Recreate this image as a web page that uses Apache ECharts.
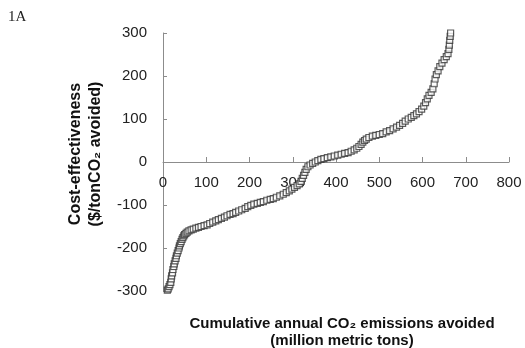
<!DOCTYPE html>
<html>
<head>
<meta charset="utf-8">
<script src="https://cdn.jsdelivr.net/npm/echarts@6/dist/echarts.min.js"></script>
<style>
  html, body { margin: 0; padding: 0; background: #fff; }
  #main { width: 525px; height: 348px; }
</style>
</head>
<body>
<div id="main"></div>
<script>
// cumulative emissions avoided (million metric tons)
var cumEmissions = [
  10, 12, 14, 16, 18, 19, 20, 22, 23, 25, 26, 28, 30, 31, 33, 35, 37, 38, 40, 42,
  44, 46, 48, 50, 53, 56, 60, 65, 70, 76, 82, 88, 95, 102, 108, 115, 122, 128, 135, 142,
  148, 155, 162, 168, 175, 182, 190, 196, 203, 210, 218, 225, 232, 240, 248, 255, 262, 270, 278, 285,
  292, 298, 304, 310, 315, 319, 322, 325, 328, 331, 335, 340, 346, 352, 358, 365, 372, 380, 388, 396,
  404, 412, 420, 428, 435, 442, 448, 453, 458, 462, 466, 470, 476, 484, 492, 500, 508, 516, 524, 532,
  540, 547, 554, 560, 567, 574, 580, 586, 592, 598, 603, 607, 611, 615, 620, 624, 627, 629, 632, 636,
  640, 645, 650, 655, 659, 661, 662, 663, 664, 665
];
// cost-effectiveness ($/ton CO2 avoided)
var costEff = [
  -298, -295, -290, -285, -280, -272, -265, -258, -250, -243, -237, -230, -224, -218, -212, -206, -200, -195, -190, -185,
  -180, -176, -172, -169, -166, -163, -160, -158, -156, -154, -152, -150, -148, -146, -143, -140, -137, -134, -131, -128,
  -125, -122, -120, -117, -114, -111, -108, -104, -101, -98, -96, -94, -92, -89, -87, -85, -82, -79, -75, -71,
  -67, -63, -59, -55, -51, -45, -38, -31, -24, -17, -11, -7, -3, 0, 3, 6, 8, 10, 12, 14,
  16, 18, 20, 22, 25, 28, 32, 36, 41, 46, 50, 53, 57, 60, 62, 64, 66, 70, 73, 77,
  81, 85, 90, 95, 100, 104, 108, 112, 117, 123, 130, 138, 147, 155, 162, 170, 182, 193, 203, 212,
  222, 230, 238, 245, 252, 262, 272, 283, 292, 300
];
var xTicks = [0, 100, 200, 300, 400, 500, 600, 700, 800];
var yTicks = [-300, -200, -100, 0, 100, 200, 300];

var points = cumEmissions.map(function (x, i) { return [x, costEff[i]]; });

var chart = echarts.init(document.getElementById('main'), null, { renderer: 'canvas' });

var axisLineGray = '#8c8c8c';
var labelFont = 'Liberation Sans, Arial, sans-serif';
var gridH = 348 - 33 - 57;

chart.setOption({
  animation: false,
  backgroundColor: '#fff',
  grid: { left: 163, right: 16, top: 33, bottom: 57, containLabel: false },
  xAxis: {
    type: 'value',
    min: xTicks[0],
    max: xTicks[xTicks.length - 1],
    interval: 100,
    // onZero doesn't kick in here, so shift the axis up to the y = 0 line
    offset: -gridH / 2,
    axisLine: { onZero: false, lineStyle: { color: axisLineGray, width: 1 } },
    axisTick: { show: true, inside: true, length: 5, lineStyle: { color: axisLineGray } },
    axisLabel: { color: '#222', fontSize: 15, fontFamily: labelFont, margin: 13 },
    splitLine: { show: false }
  },
  yAxis: {
    type: 'value',
    min: yTicks[0],
    max: yTicks[yTicks.length - 1],
    interval: 100,
    axisLine: { show: true, onZero: false, lineStyle: { color: axisLineGray, width: 1 } },
    axisTick: { show: true, inside: true, length: 4, lineStyle: { color: axisLineGray } },
    axisLabel: { color: '#222', fontSize: 15, fontFamily: labelFont, margin: 16 },
    splitLine: { show: false }
  },
  series: [{
    type: 'scatter',
    data: points,
    symbol: 'rect',
    symbolSize: 6,
    itemStyle: { color: '#fff', borderColor: '#333', borderWidth: 1.2 }
  }],
  graphic: [
    {
      type: 'text', left: 8, top: 10,
      style: { text: '1A', font: '15px "Liberation Serif", serif', fill: '#222' }
    },
    {
      type: 'text', x: 86, y: 154, rotation: Math.PI / 2,
      style: {
        text: 'Cost-effectiveness\n($/tonCO\u2082 avoided)',
        font: 'bold 16px "Liberation Sans", Arial, sans-serif',
        fill: '#111', align: 'center', verticalAlign: 'middle', lineHeight: 20
      }
    },
    {
      type: 'text', x: 342, y: 332,
      style: {
        text: 'Cumulative annual CO\u2082 emissions avoided\n(million metric tons)',
        font: 'bold 15px "Liberation Sans", Arial, sans-serif',
        fill: '#111', align: 'center', verticalAlign: 'middle', lineHeight: 17
      }
    }
  ]
});
</script>
</body>
</html>
